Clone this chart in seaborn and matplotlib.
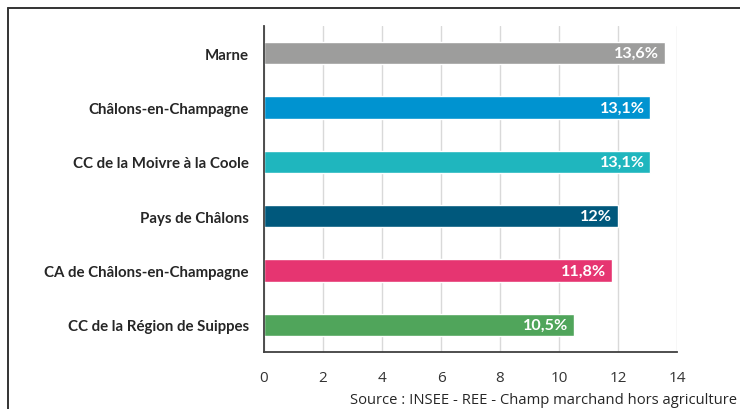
import matplotlib
matplotlib.use('Agg')
import matplotlib.pyplot as plt
import seaborn as sns
import pandas as pd
from matplotlib.lines import Line2D

# Data
territories = ['Marne', 'Châlons-en-Champagne', 'CC de la Moivre à la Coole',
               'Pays de Châlons', 'CA de Châlons-en-Champagne',
               'CC de la Région de Suippes']
rates = [13.6, 13.1, 13.1, 12.0, 11.8, 10.5]
value_labels = ['13,6%', '13,1%', '13,1%', '12%', '11,8%', '10,5%']
colors = ['#9D9D9C', '#0093D0', '#1FB6BE', '#00587C', '#E63571', '#50A55B']

df = pd.DataFrame({'territoire': territories, 'taux': rates})

sns.set_style('white')
plt.rcParams['font.family'] = ['Lato', 'DejaVu Sans']

fig = plt.figure(figsize=(7.4, 4.1), dpi=100)
ax = fig.add_axes([264 / 740, 57 / 410, (677 - 264) / 740, (353 - 27) / 410])

sns.barplot(data=df, x='taux', y='territoire', hue='territoire',
            palette=colors, width=0.41, legend=False, ax=ax, saturation=1)

ax.set_xlim(0, 14)
ax.set_xticks(range(0, 15, 2))
ax.grid(axis='x', color='#D9D9D9', linewidth=1)
ax.set_axisbelow(True)
ax.set_xlabel('')
ax.set_ylabel('')

for s in ['top', 'right']:
    ax.spines[s].set_visible(False)
for s in ['left', 'bottom']:
    ax.spines[s].set_color('#404040')
    ax.spines[s].set_linewidth(1.3)

ax.tick_params(axis='x', length=0, pad=13, labelsize=11, labelcolor='#333333')
ax.tick_params(axis='y', length=0, pad=11)
for lab in ax.get_xticklabels():
    lab.set_family(['Open Sans', 'DejaVu Sans'])
for lab in ax.get_yticklabels():
    lab.set_fontweight('bold')
    lab.set_fontsize(10.8)
    lab.set_color('#262626')

for i, (v, txt) in enumerate(zip(rates, value_labels)):
    ax.text(v - 0.2, i, txt, ha='right', va='center', color='white',
            fontsize=11.6, fontweight='bold')

fig.text(737 / 740, 1 - 401 / 410, 'Source : INSEE - REE - Champ marchand hors agriculture',
         ha='right', va='center', fontsize=10.6, color='#262626', family=['Open Sans', 'DejaVu Sans'])

# outer frame (cut at right and bottom)
fig.add_artist(Line2D([8 / 740, 1], [1 - 9 / 410, 1 - 9 / 410], transform=fig.transFigure,
                      color='#333333', linewidth=1.4))
fig.add_artist(Line2D([8 / 740, 8 / 740], [0, 1 - 9 / 410], transform=fig.transFigure,
                      color='#333333', linewidth=1.4))

fig.savefig('out.png', dpi=100)
